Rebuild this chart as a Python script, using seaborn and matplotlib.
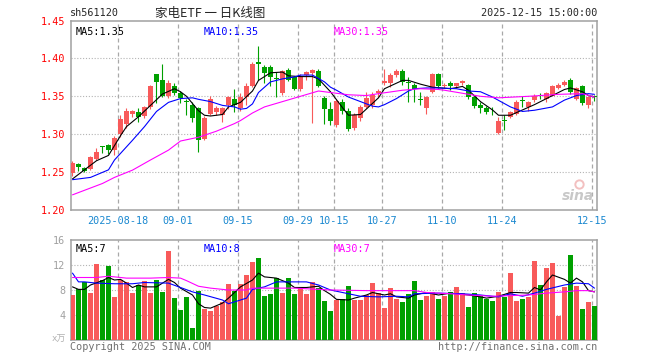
# K-line chart (daily candles + volume) for sh561120, drawn with seaborn/matplotlib.
import pandas as pd
import matplotlib
matplotlib.use("Agg")
import matplotlib.pyplot as plt
import seaborn as sns

# -----------------------------
# Data
# -----------------------------

# Daily open / high / low / close, 2025-08-06 .. 2025-12-15 (88 trading days).
opens = [
    1.249, 1.261, 1.256, 1.254, 1.267, 1.284, 1.286, 1.279, 1.300, 1.313,
    1.326, 1.329, 1.324, 1.336, 1.379, 1.371, 1.351, 1.363, 1.354, 1.343,
    1.338, 1.334, 1.294, 1.326, 1.329, 1.325, 1.338, 1.346, 1.334, 1.349,
    1.363, 1.395, 1.389, 1.389, 1.374, 1.355, 1.385, 1.376, 1.360, 1.378,
    1.381, 1.384, 1.348, 1.333, 1.312, 1.342, 1.331, 1.308, 1.321, 1.336,
    1.338, 1.355, 1.367, 1.368, 1.378, 1.384, 1.369, 1.365, 1.346, 1.334,
    1.356, 1.379, 1.364, 1.368, 1.363, 1.367, 1.365, 1.349, 1.339, 1.335,
    1.331, 1.302, 1.319, 1.323, 1.326, 1.345, 1.336, 1.345, 1.351, 1.347,
    1.351, 1.361, 1.365, 1.372, 1.347, 1.363, 1.339, 1.351,
]
highs = [
    1.264, 1.262, 1.257, 1.271, 1.282, 1.285, 1.287, 1.297, 1.325, 1.335,
    1.332, 1.334, 1.337, 1.365, 1.380, 1.392, 1.371, 1.367, 1.357, 1.347,
    1.343, 1.336, 1.324, 1.351, 1.337, 1.336, 1.351, 1.359, 1.355, 1.367,
    1.395, 1.417, 1.391, 1.391, 1.382, 1.385, 1.387, 1.377, 1.379, 1.384,
    1.386, 1.386, 1.351, 1.343, 1.346, 1.347, 1.335, 1.328, 1.338, 1.356,
    1.356, 1.360, 1.386, 1.381, 1.386, 1.386, 1.376, 1.368, 1.356, 1.350,
    1.381, 1.381, 1.368, 1.370, 1.368, 1.372, 1.366, 1.350, 1.342, 1.337,
    1.336, 1.323, 1.325, 1.330, 1.345, 1.350, 1.344, 1.353, 1.354, 1.356,
    1.365, 1.367, 1.372, 1.374, 1.362, 1.365, 1.350, 1.352,
]
lows = [
    1.245, 1.251, 1.250, 1.253, 1.266, 1.275, 1.274, 1.272, 1.296, 1.308,
    1.323, 1.316, 1.322, 1.333, 1.341, 1.349, 1.348, 1.352, 1.341, 1.325,
    1.316, 1.277, 1.293, 1.325, 1.325, 1.316, 1.333, 1.329, 1.330, 1.338,
    1.362, 1.372, 1.368, 1.363, 1.349, 1.352, 1.370, 1.358, 1.357, 1.371,
    1.315, 1.362, 1.314, 1.312, 1.309, 1.326, 1.304, 1.305, 1.318, 1.334,
    1.334, 1.349, 1.365, 1.362, 1.376, 1.365, 1.342, 1.342, 1.338, 1.327,
    1.354, 1.361, 1.361, 1.358, 1.361, 1.365, 1.347, 1.335, 1.328, 1.326,
    1.325, 1.300, 1.305, 1.321, 1.325, 1.336, 1.330, 1.343, 1.347, 1.343,
    1.350, 1.360, 1.363, 1.353, 1.345, 1.339, 1.335, 1.344,
]
closes = [
    1.262, 1.257, 1.252, 1.270, 1.276, 1.283, 1.279, 1.295, 1.320, 1.331,
    1.331, 1.323, 1.336, 1.364, 1.369, 1.351, 1.368, 1.354, 1.348, 1.342,
    1.322, 1.293, 1.322, 1.346, 1.334, 1.334, 1.349, 1.339, 1.349, 1.363,
    1.393, 1.393, 1.381, 1.375, 1.373, 1.384, 1.371, 1.360, 1.375, 1.382,
    1.385, 1.364, 1.333, 1.317, 1.344, 1.330, 1.307, 1.325, 1.336, 1.348,
    1.352, 1.357, 1.370, 1.378, 1.384, 1.369, 1.368, 1.359, 1.345, 1.349,
    1.380, 1.364, 1.365, 1.363, 1.367, 1.370, 1.349, 1.337, 1.334, 1.329,
    1.330, 1.318, 1.318, 1.329, 1.343, 1.344, 1.343, 1.351, 1.350, 1.354,
    1.363, 1.365, 1.369, 1.356, 1.361, 1.341, 1.349, 1.349,
]

# Daily volume (万).
volumes = [
    7.2, 8.1, 9.3, 7.6, 12.2, 9.6, 11.9, 6.9, 9.6, 9.3,
    7.6, 8.8, 9.5, 7.6, 9.6, 7.7, 14.3, 6.8, 4.8, 6.9,
    2.0, 7.8, 5.0, 4.7, 5.4, 6.1, 9.0, 7.8, 9.0, 10.4,
    12.5, 13.1, 7.0, 7.4, 10.0, 7.6, 10.0, 7.4, 8.5, 7.4,
    9.3, 8.4, 6.3, 4.7, 6.4, 6.5, 8.6, 6.4, 6.4, 7.2,
    9.2, 7.5, 5.1, 8.3, 6.6, 6.1, 7.4, 9.4, 6.4, 7.1,
    7.7, 6.6, 7.0, 7.7, 8.5, 7.6, 5.3, 7.5, 7.1, 6.6,
    6.3, 7.7, 6.9, 10.7, 6.3, 6.6, 6.9, 12.7, 8.8, 11.6,
    12.3, 3.9, 8.5, 13.6, 8.6, 5.0, 6.1, 5.4,
]

# Moving-average lines of the price panel, read at sample days.
ma5_days = [0, 4, 6, 7, 8, 9, 11, 13, 15, 17, 18, 19, 21, 22, 23, 25, 26, 28, 30, 31,
            33, 35, 36, 38, 40, 41, 43, 45, 46, 48, 51, 52, 55, 56, 58, 60, 63, 65, 66,
            68, 70, 71, 73, 75, 77, 80, 82, 83, 85, 86, 87]
ma5_vals = [1.241, 1.265, 1.272, 1.285, 1.298, 1.310, 1.323, 1.338, 1.353, 1.360, 1.356,
            1.350, 1.331, 1.325, 1.324, 1.326, 1.336, 1.342, 1.357, 1.371, 1.381, 1.382,
            1.377, 1.376, 1.376, 1.373, 1.356, 1.335, 1.325, 1.326, 1.348, 1.360, 1.371,
            1.371, 1.366, 1.362, 1.360, 1.363, 1.358, 1.343, 1.332, 1.325, 1.325, 1.332,
            1.339, 1.351, 1.359, 1.361, 1.356, 1.351, 1.349]

ma10_days = [0, 3, 6, 7, 10, 12, 14, 16, 18, 20, 21, 23, 25, 27, 28, 29, 30, 31, 33, 35,
             37, 38, 40, 42, 43, 44, 46, 48, 50, 51, 52, 54, 55, 56, 57, 59, 61, 64, 66,
             68, 70, 73, 75, 77, 80, 82, 84, 86, 87]
ma10_vals = [1.240, 1.243, 1.253, 1.266, 1.292, 1.310, 1.330, 1.342, 1.347, 1.348, 1.346,
             1.343, 1.338, 1.336, 1.333, 1.334, 1.340, 1.355, 1.369, 1.373, 1.3755, 1.378,
             1.378, 1.369, 1.362, 1.358, 1.349, 1.343, 1.337, 1.336, 1.339, 1.347, 1.352,
             1.357, 1.360, 1.361, 1.361, 1.360, 1.357, 1.356, 1.349, 1.336, 1.330, 1.3316,
             1.336, 1.345, 1.351, 1.3535, 1.3526]

ma30_days = [0, 5, 7, 10, 13, 16, 18, 21, 24, 27, 28, 30, 32, 35, 38, 41, 43, 46, 49, 51,
             55, 58, 61, 62, 65, 68, 71, 76, 81, 85, 87]
ma30_vals = [1.220, 1.235, 1.243, 1.2526, 1.266, 1.279, 1.291, 1.296, 1.304, 1.314, 1.318,
             1.328, 1.336, 1.343, 1.350, 1.357, 1.355, 1.352, 1.351, 1.3535, 1.358, 1.360,
             1.359, 1.358, 1.354, 1.350, 1.348, 1.350, 1.3526, 1.3535, 1.349]

# Moving-average lines of the volume panel, read at sample days.
vma5_days = [0, 1, 2, 3, 5, 6, 7, 8, 9, 10, 11, 12, 14, 16, 17, 18, 20, 21, 22, 23, 25,
             26, 28, 30, 31, 32, 34, 36, 37, 39, 41, 42, 43, 44, 46, 47, 49, 50, 52, 53,
             54, 56, 57, 59, 61, 63, 64, 66, 68, 69, 71, 73, 74, 76, 77, 78, 79, 80, 82,
             83, 84, 85, 86, 87]
vma5_vals = [8.5, 8.1, 8.1, 8.8, 9.5, 10.0, 9.6, 9.7, 9.1, 8.4, 8.8, 8.5, 8.5, 9.7, 9.2,
             8.3, 7.2, 5.8, 5.2, 5.1, 5.9, 6.7, 8.5, 9.6, 10.7, 10.1, 9.9, 9.1, 8.4, 8.4,
             8.6, 7.9, 7.3, 6.5, 6.4, 6.7, 7.2, 7.6, 7.2, 7.4, 6.9, 6.7, 7.2, 7.6, 7.2,
             7.5, 7.4, 7.2, 6.9, 6.7, 7.0, 7.6, 7.6, 7.5, 8.4, 8.0, 9.3, 10.4, 9.7, 9.1,
             9.9, 9.3, 7.9, 7.7]

vma10_days = [0, 1, 2, 4, 7, 10, 12, 16, 18, 20, 22, 25, 26, 27, 29, 30, 32, 34, 38, 39,
              41, 43, 45, 48, 51, 54, 56, 57, 61, 65, 68, 71, 73, 75, 77, 79, 82, 84, 86, 87]
vma10_vals = [10.7, 9.3, 9.3, 9.1, 9.0, 9.0, 9.2, 9.1, 8.4, 7.7, 7.2, 6.4, 5.8, 6.1, 6.7,
              8.1, 8.5, 9.3, 9.3, 9.3, 8.8, 8.0, 7.6, 7.0, 6.9, 7.0, 6.9, 7.4, 7.5, 7.4,
              7.2, 6.9, 7.4, 7.0, 7.5, 8.1, 8.8, 9.1, 9.0, 8.3]

vma30_days = [0, 4, 6, 9, 13, 16, 18, 19, 21, 23, 26, 29, 30, 37, 43, 49, 57, 59, 63, 66,
              70, 73, 76, 79, 82, 84, 86, 87]
vma30_vals = [10.0, 10.0, 10.2, 9.9, 9.9, 10.0, 9.9, 9.5, 8.6, 8.3, 8.0, 8.0, 8.3, 8.3,
              8.0, 7.9, 7.9, 7.6, 7.4, 7.2, 7.0, 7.1, 7.2, 7.5, 7.7, 7.9, 7.9, 7.7]

# Date labels on the time axis (day index -> label).
date_days = [8, 18, 28, 38, 44, 52, 62, 72, 87]
date_labels = ["2025-08-18", "09-01", "09-15", "09-29", "10-15",
               "10-27", "11-10", "11-24", "12-15"]

price_ticks = [1.20, 1.25, 1.30, 1.35, 1.40, 1.45]
volume_ticks = [4, 8, 12, 16]


# -----------------------------
# Style
# -----------------------------
sns.set_style("white")
plt.rcParams["font.family"] = ["DejaVu Sans Mono", "Noto Sans CJK SC"]
plt.rcParams["font.size"] = 7

RED = "#f85a5a"
GREEN = "#00a000"
EDGE = "#a0a0a0"
GRID = "#b4b4b4"
DATE_BLUE = "#1a88d0"

W, H = 660, 360
fig = plt.figure(figsize=(W / 100, H / 100), dpi=100)


def px_axes(left, top, right, bottom):
    # Axes placed by pixel edges of the 660x360 picture.
    return fig.add_axes([left / W, 1 - bottom / H, (right - left) / W, (bottom - top) / H])


ax = px_axes(70.7, 20.5, 597, 210)
axv = px_axes(70.7, 240, 597, 340)

x_lo, x_hi = -0.3, 87.42

df = pd.DataFrame({
    "day": range(len(closes)),
    "open": opens, "high": highs, "low": lows, "close": closes,
    "volume": volumes,
})
df["dir"] = ["up" if c >= o else "down" for o, c in zip(df["open"], df["close"])]
colors = {"up": RED, "down": GREEN}


# -----------------------------
# Price panel: candles + moving averages
# -----------------------------
for _, r in df.iterrows():
    col = colors[r["dir"]]
    ax.vlines(r["day"], r["low"], r["high"], color=col, lw=0.8, zorder=3)
    body = max(abs(r["close"] - r["open"]), 0.0012)
    ax.bar(r["day"], body, bottom=min(r["open"], r["close"]), width=0.8,
           color=col, linewidth=0, zorder=4)

sns.lineplot(x=ma5_days, y=ma5_vals, color="black", lw=0.8, ax=ax, zorder=5)
sns.lineplot(x=ma10_days, y=ma10_vals, color="#0000ff", lw=0.8, ax=ax, zorder=5)
sns.lineplot(x=ma30_days, y=ma30_vals, color="#ff00ff", lw=0.8, ax=ax, zorder=5)

ax.set_xlim(x_lo, x_hi)
ax.set_ylim(1.20, 1.45)
ax.set_yticks(price_ticks)
ax.set_yticklabels([f"{t:.2f}" for t in price_ticks], color="#ff0000", fontsize=7.3)
ax.set_xticks([d - 0.42 for d in date_days])
ax.set_xticklabels(date_labels, color=DATE_BLUE, fontsize=7.3)
ax.tick_params(length=0, pad=4)
ax.set_xlabel("")
ax.set_ylabel("")

for t in price_ticks[1:-1]:
    ax.axhline(t, color=GRID, lw=0.8, ls=(0, (1, 1.6)), zorder=1)
for d in date_days:
    ax.axvline(d - 0.42, color="#a8a8a8", lw=0.9, ls=(0, (3.2, 2.4)), zorder=1)

ax.text(0.01, 0.965, "MA5:1.35", transform=ax.transAxes, color="black", va="top", fontsize=7.3)
ax.text(0.2535, 0.965, "MA10:1.35", transform=ax.transAxes, color="#0000ff", va="top", fontsize=7.3)
ax.text(0.4995, 0.965, "MA30:1.35", transform=ax.transAxes, color="#ff00ff", va="top", fontsize=7.3)

# sina watermark (faint eye + word) in the lower right corner
ax.text(0.995, 0.035, "sina", transform=ax.transAxes, ha="right", va="bottom",
        color="#c8c8c8", fontsize=10, fontweight="bold", style="italic", family="DejaVu Sans")
ax.plot([84.4], [1.2345], marker="o", ms=6, mfc="none", mec="#f3c0c0", mew=1.4, zorder=2)


# -----------------------------
# Volume panel: bars + moving averages
# -----------------------------
sns.barplot(data=df, x="day", y="volume", hue="dir", palette=colors, dodge=False,
            width=0.8, native_scale=True, legend=False, errorbar=None,
            saturation=1, linewidth=0, ax=axv, zorder=3)

sns.lineplot(x=vma5_days, y=vma5_vals, color="black", lw=0.8, ax=axv, zorder=5)
sns.lineplot(x=vma10_days, y=vma10_vals, color="#0000ff", lw=0.8, ax=axv, zorder=5)
sns.lineplot(x=vma30_days, y=vma30_vals, color="#ff00ff", lw=0.8, ax=axv, zorder=5)

axv.set_xlim(x_lo, x_hi)
axv.set_ylim(0, 16)
axv.set_yticks(volume_ticks)
axv.set_yticklabels([str(t) for t in volume_ticks], color="#a0a0a0", fontsize=7.3)
axv.set_xticks([])
axv.tick_params(length=0, pad=4)
axv.set_xlabel("")
axv.set_ylabel("")

for t in volume_ticks[:-1]:
    axv.axhline(t, color=GRID, lw=0.8, ls=(0, (1, 1.6)), zorder=1)
for d in date_days:
    axv.axvline(d - 0.42, color="#a8a8a8", lw=0.9, ls=(0, (3.2, 2.4)), zorder=1)

axv.text(0.01, 0.96, "MA5:7", transform=axv.transAxes, color="black", va="top", fontsize=7.3)
axv.text(0.2535, 0.96, "MA10:8", transform=axv.transAxes, color="#0000ff", va="top", fontsize=7.3)
axv.text(0.4995, 0.96, "MA30:7", transform=axv.transAxes, color="#ff00ff", va="top", fontsize=7.3)

for a in (ax, axv):
    for s in a.spines.values():
        s.set_color(EDGE)
        s.set_linewidth(1.1)
        s.set_visible(True)


# -----------------------------
# Texts around the panels
# -----------------------------
fig.text(70 / W, 1 - 13 / H, "sh561120", ha="left", va="center", fontsize=7.3)
fig.text(210 / W, 1 - 13 / H, "家电ETF 一 日K线图", ha="center", va="center",
         fontsize=9, family=["Noto Sans CJK SC", "DejaVu Sans"])
fig.text(597 / W, 1 - 13 / H, "2025-12-15 15:00:00", ha="right", va="center", fontsize=7.3)
fig.text(66 / W, 1 - 339 / H, "x万", ha="right", va="center", color="#b0b0b0",
         fontsize=6.5, family=["DejaVu Sans Mono", "Noto Sans CJK SC"])
fig.text(70 / W, 1 - 347 / H, "Copyright 2025 SINA.COM", ha="left", va="center",
         color="#707070", fontsize=7.3)
fig.text(597 / W, 1 - 347 / H, "http://finance.sina.com.cn", ha="right", va="center",
         color="#707070", fontsize=7.3)

fig.savefig("out.png", dpi=100)
plt.close(fig)
